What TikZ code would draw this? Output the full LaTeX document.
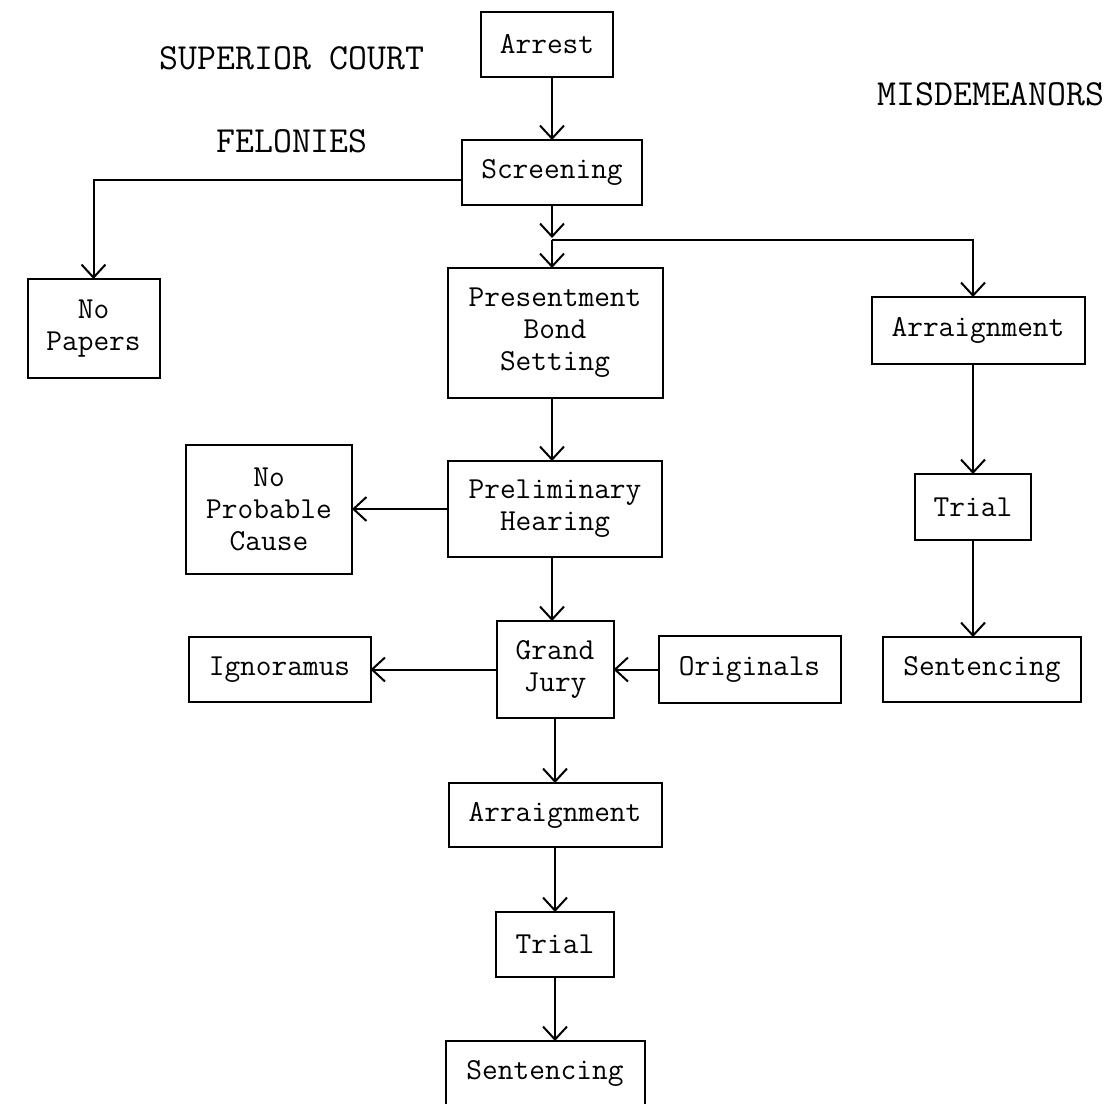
\documentclass[tikz,border=0pt]{standalone}
\usepackage{fontspec}
\newcommand{\stagefont}{\ttfamily\fontsize{30.5}{32}\selectfont}
\newcommand{\headfont}{\ttfamily\fontsize{36.8}{40}\selectfont}
\usepackage{tikz}
\usetikzlibrary{arrows.meta,positioning}
\tikzstyle{stage}=[rectangle,draw=black,line width=2,font=\stagefont,align=center,inner sep=0,outer sep=0,minimum height=65]
\tikzstyle{heading}=[font=\headfont]

\begin{document}
\begin{tikzpicture}[x=1pt,y=-1pt]
	\useasboundingbox (0,0) rectangle (1115,1103);
	\begin{scope}[node distance=64pt,>={Straight Barb[length=13,width=24]},line width=2]
		\node[heading]	(superior)	at (292,58)	{SUPERIOR COURT};
		\node[heading]	(felonies)	at (292,141)	{FELONIES};
		\node[heading]	(misdem)	at (991,94)	{MISDEMEANORS};

		\node[stage,minimum width=132]	(arrest)	at (547,44.5)	{Arrest};
		\node[stage,minimum width=180]	(screening)	[below=63pt of arrest,xshift=5pt]	{Screening};
		\node[stage,minimum width=215,minimum height=130]	(presentment)	[below=63pt of screening,xshift=3pt]	{Presentment\\Bond\\Setting};
		\node[stage,minimum width=214,minimum height=96]	(prelim)	[below=63pt of presentment]	{Preliminary\\Hearing};
		\node[stage,minimum width=117,minimum height=97]	(grandjury)	[below=of prelim]	{Grand\\Jury};
		\node[stage,minimum width=213,minimum height=64]	(arraignF)	[below=65pt of grandjury]	{Arraignment};
		\node[stage,minimum width=118]	(trialF)	[below=65pt of arraignF]	{Trial};
		\node[stage,minimum width=199]	(sentF)	[below=of trialF,xshift=-10pt]	{Sentencing};

		\node[stage,minimum width=132,minimum height=99]	(nopapers)	at (93.5,328.5)	{No\\Papers};
		\node[stage,minimum width=166,minimum height=129]	(noprobable)	[left=96pt of prelim]	{No\\Probable\\Cause};
		\node[stage,minimum width=182]	(ignoramus)	[left=126pt of grandjury]	{Ignoramus};
		\node[stage,minimum width=182,minimum height=67]	(originals)	[right=45pt of grandjury]	{Originals};

		\node[stage,minimum width=213,minimum height=67]	(arraignM)	at (978,330.5)	{Arraignment};
		\node[stage,minimum width=116,minimum height=66]	(trialM)	[below=110pt of arraignM,xshift=-5pt]	{Trial};
		\node[stage,minimum width=198]	(sentM)	[below=97pt of trialM,xshift=9pt]	{Sentencing};

		\coordinate (split) at ([yshift=-35pt]screening.south);

		\draw[->] (arrest.south -| screening) -- (screening.north);
		\draw[->] ([yshift=-7pt]screening.west) -| (nopapers.north);
		\draw[->] (screening.south) -- ([yshift=2pt]split);
		\draw[->] (split) -- (split |- presentment.north);
		\draw[->] (split) -| (trialM |- arraignM.north);
		\draw[->] (presentment.south -| split) -- (split |- prelim.north);
		\draw[->] (prelim.west) -- (noprobable.east |- prelim.west);
		\draw[->] (prelim.south -| split) -- (split |- grandjury.north);
		\draw[->] (grandjury.west) -- (ignoramus.east |- grandjury.west);
		\draw[->] (originals.west) -- (grandjury.east |- originals.west);
		\draw[->] (grandjury.south) -- (arraignF.north);
		\draw[->] (arraignF.south) -- (trialF.north);
		\draw[->] (trialF.south) -- (trialF.south |- sentF.north);

		\draw[->] (trialM |- arraignM.south) -- (trialM.north);
		\draw[->] (trialM.south) -- (trialM.south |- sentM.north);
	\end{scope}
\end{tikzpicture}
\end{document}
